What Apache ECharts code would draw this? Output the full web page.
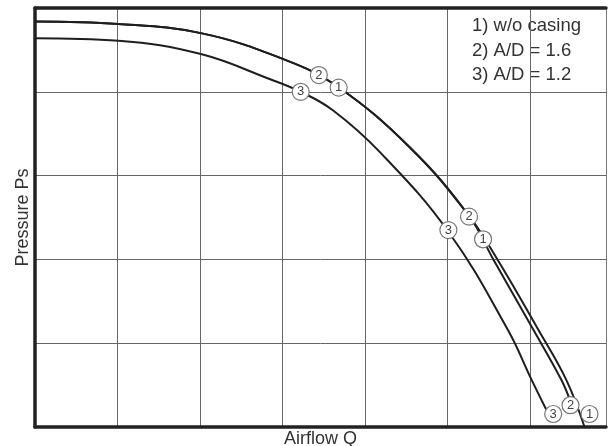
<!DOCTYPE html>
<html>
<head>
<meta charset="utf-8">
<script src="https://cdn.jsdelivr.net/npm/echarts@6/dist/echarts.min.js"></script>
<style>
    html, body { margin: 0; padding: 0; background: #fff; }
    #chart { width: 613px; height: 446px; }
</style>
</head>
<body>
<div id="chart"></div>
<script>
    // curves, x = airflow (grid cells), y = pressure (grid cells)
    var curveNoCasing = [
        [0, 4.84], [1.01, 4.81], [2.01, 4.70],
        [3.01, 4.39], [3.67, 4.06], [4.55, 3.33],
        [5.26, 2.52], [5.61, 1.99], [6.10, 1.16],
        [6.44, 0.56], [6.66, 0]
    ];
    var curveAD16 = [
        [0, 4.84], [1.01, 4.81], [2.01, 4.70],
        [3.01, 4.39], [3.67, 4.06], [4.55, 3.33],
        [5.26, 2.52], [5.56, 1.99], [6.04, 1.16],
        [6.38, 0.56], [6.49, 0.30]
    ];
    var curveAD12 = [
        [0, 4.64], [1.01, 4.61], [2.01, 4.45], [2.85, 4.15],
        [3.22, 4.00], [3.61, 3.78], [4.18, 3.28], [5.01, 2.33],
        [5.73, 1.16], [6.02, 0.56], [6.20, 0.20]
    ];

    // numbered circles along the curves
    var markNoCasing = [[3.68, 4.05], [5.43, 2.24], [6.72, 0.155]];
    var markAD16 = [[3.44, 4.20], [5.26, 2.51], [6.49, 0.26]];
    var markAD12 = [[3.22, 4.00], [5.01, 2.35], [6.28, 0.155]];

    var legendLines = ['1) w/o casing', '2) A/D = 1.6', '3) A/D = 1.2'];
    var xName = 'Airflow Q';
    var yName = 'Pressure Ps';
    var xMax = 6.92;
    var yMax = 5;

    function marks(points, label) {
        return points.map(function (p) {
            return { name: label, value: p };
        });
    }

    function curve(name, data, width) {
        return {
            name: name,
            type: 'line',
            data: data,
            smooth: 0.4,
            showSymbol: false,
            lineStyle: { color: '#1e1e1e', width: width },
            z: 2
        };
    }

    var hiddenAxis = {
        axisTick: { show: false },
        axisLabel: { show: false },
        splitLine: { show: false }
    };

    var myChart = echarts.init(document.getElementById('chart'));
    myChart.setOption({
        animation: false,
        backgroundColor: '#fff',
        grid: { left: 35, right: 7, top: 8, bottom: 19, outerBoundsMode: 'none' },
        graphic: [{
            type: 'text',
            left: 472,
            top: 14,
            style: {
                text: legendLines.join('\n'),
                font: '18.5px "Liberation Sans", Arial, sans-serif',
                lineHeight: 24.5,
                fill: '#333'
            }
        }],
        xAxis: [{
            type: 'value',
            min: 0,
            max: xMax,
            interval: 1,
            name: xName,
            nameLocation: 'middle',
            nameGap: 3,
            nameTextStyle: { fontSize: 18, color: '#333', fontFamily: 'Liberation Sans' },
            axisLine: { onZero: false, lineStyle: { color: '#222', width: 3.5 } },
            axisTick: { show: false },
            axisLabel: { show: false },
            splitLine: { show: true, lineStyle: { color: '#666', width: 1 } }
        }, Object.assign({
            type: 'value',
            position: 'top',
            min: 0,
            max: xMax,
            axisLine: { show: true, onZero: false, lineStyle: { color: '#222', width: 3.5 } }
        }, hiddenAxis)],
        yAxis: [{
            type: 'value',
            min: 0,
            max: yMax,
            interval: 1,
            name: yName,
            nameLocation: 'middle',
            nameRotate: 90,
            nameGap: 3,
            nameTextStyle: { fontSize: 18, color: '#333', fontFamily: 'Liberation Sans' },
            axisLine: { onZero: false, lineStyle: { color: '#222', width: 3.5 } },
            axisTick: { show: false },
            axisLabel: { show: false },
            splitLine: { show: true, lineStyle: { color: '#666', width: 1 } }
        }, Object.assign({
            type: 'value',
            position: 'right',
            min: 0,
            max: yMax,
            axisLine: { show: true, onZero: false, lineStyle: { color: '#777', width: 1 } }
        }, hiddenAxis)],
        series: [
            curve('w/o casing', curveNoCasing, 2),
            curve('A/D = 1.6', curveAD16, 2),
            curve('A/D = 1.2', curveAD12, 2),
            {
                type: 'scatter',
                data: marks(markNoCasing, '1').concat(marks(markAD16, '2'), marks(markAD12, '3')),
                symbol: 'circle',
                symbolSize: 17,
                itemStyle: { color: '#fff', borderColor: '#777', borderWidth: 1.2, opacity: 1 },
                label: {
                    show: true,
                    position: 'inside',
                    formatter: '{b}',
                    color: '#444',
                    fontSize: 13,
                    fontFamily: 'Liberation Sans'
                },
                z: 5
            }
        ]
    });
</script>
</body>
</html>
